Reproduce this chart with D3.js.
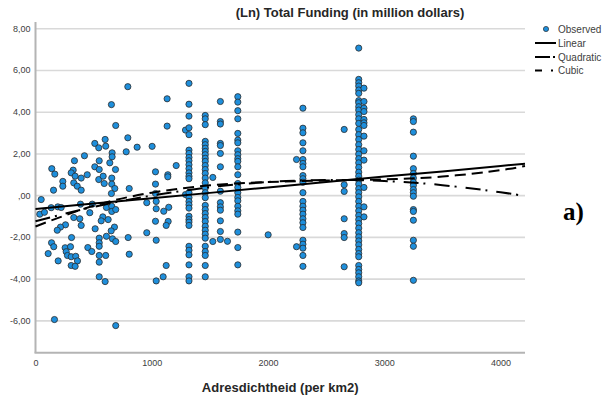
<!DOCTYPE html>
<html>
<head>
<meta charset="utf-8">
<script src="https://cdn.jsdelivr.net/npm/d3@7"></script>
<style>
  body { margin: 0; background: #fff; }
  svg { display: block; font-family: "Liberation Sans", Arial, sans-serif; }
</style>
</head>
<body>
<svg id="chart" width="604" height="399"></svg>
<script>
const chartTitle = "(Ln) Total Funding (in million dollars)";
const xTitle = "Adresdichtheid (per km2)";
const panelLabel = "a)";
const legendLabels = ["Observed", "Linear", "Quadratic", "Cubic"];

const yTicks = [8, 6, 4, 2, 0, -2, -4, -6];
const yTickLabels = ["8,00", "6,00", "4,00", "2,00", ",00", "-2,00", "-4,00", "-6,00"];
const xTicks = [0, 1000, 2000, 3000, 4000];
const xTickLabels = ["0", "1000", "2000", "3000", "4000"];

// Scattered observations: [address density, ln total funding]
const looseObs = [
  [794, 5.20], [653, 4.34], [690, 3.34], [794, 2.75], [510, 2.48], [599, 2.67], [544, 2.27], [604, 2.35],
  [421, 1.89], [335, 1.65], [659, 2.03], [659, 1.84], [780, 2.08], [548, 1.65], [639, 1.55], [510, 1.36],
  [548, 1.23], [688, 1.23], [140, 1.27], [166, 1.01], [324, 1.20], [307, 1.07], [341, 0.91], [393, 0.82],
  [445, 0.98], [544, 0.75], [582, 0.91], [656, 0.82], [591, 0.56], [656, 0.53], [235, 0.66], [235, 0.43],
  [329, 0.59], [359, 0.43], [393, 0.24], [682, 0.32], [653, 0.08], [806, 0.32], [155, 0.24], [49, -0.21],
  [37, -0.91], [77, -0.82], [135, -0.60], [192, -0.56], [221, -0.59], [387, -0.43], [467, -0.84], [488, -0.43],
  [610, -0.59], [656, -0.53], [656, -0.78], [690, -0.69], [329, -1.07], [381, -1.13], [258, -1.42], [215, -1.53],
  [187, -1.68], [393, -1.45], [513, -1.61], [579, -1.04], [565, -1.23], [625, -1.17], [679, -1.53], [651, -1.71],
  [548, -2.06], [548, -2.28], [548, -2.45], [610, -1.97], [662, -2.09], [690, -2.22], [797, -2.03], [310, -2.03],
  [138, -2.28], [157, -2.47], [109, -2.80], [255, -2.52], [264, -2.71], [275, -2.89], [301, -2.47], [307, -2.95],
  [346, -2.93], [361, -3.15], [307, -3.37], [341, -3.41], [195, -3.15], [450, -2.51], [484, -2.70], [548, -2.89],
  [604, -2.89], [548, -3.21], [806, -2.83], [548, -3.91], [599, -4.14], [163, -5.96], [690, -6.25],
  [1132, 4.62], [1132, 3.31], [874, 2.30], [1003, 2.34], [1032, 1.12], [1032, 0.53], [1138, 0.98], [1138, 0.88],
  [1210, 1.42], [1032, 0.08], [957, -0.36], [1038, -0.30], [1038, -0.65], [1103, -0.77], [1146, -0.58],
  [1032, -1.25], [1141, -1.26], [1124, -1.45], [957, -1.80], [1038, -2.16], [1124, -3.37], [1098, -3.91],
  [1038, -4.11], [1290, 0.03], [1290, 3.12], [1651, -2.21], [2001, -1.90]
];

// Densities shared by many observations, with their funding values
const columnX = [1320, 1460, 1525, 1590, 1740, 2245, 2300, 2655, 2780, 2825, 3250];
const columnY = [
  [5.36, 4.36, 3.79, 3.23, 2.90, 2.16, 2.00, 1.81, 1.65, 1.46, 1.27, 1.07, 0.91, 0.79, 0.12, -0.12, -0.30,
   -0.46, -0.62, -1.01, -1.17, -1.29, -1.45, -2.45, -2.64, -2.86, -3.34, -3.91, -4.11],
  [3.82, 3.66, 3.38, 2.58, 2.42, 2.25, 2.10, 1.94, 1.77, 1.62, 1.42, 1.23, 1.04, 0.82, 0.59, 0.35, 0.12,
   -0.12, -0.49, -0.69, -0.88, -1.07, -1.26, -1.49, -1.68, -1.87, -2.06, -2.45, -2.70, -2.89, -3.37, -3.91],
  [0.85, -2.22],
  [4.49, 3.53, 3.41, 2.48, 2.38, 2.00, 1.36, 0.19, -0.36, -0.56, -0.72, -1.23, -1.74, -2.12],
  [4.72, 4.46, 4.05, 3.66, 2.96, 2.64, 2.51, 2.13, 1.94, 1.75, 1.62, 1.36, 0.98, 0.56, 0.37, 0.12, -0.11,
   -0.27, -0.53, -0.75, -0.91, -1.77, -2.51, -3.34],
  [1.71, -2.47],
  [4.17, 3.21, 2.99, 2.51, 2.13, 1.71, 1.52, 1.36, 0.94, 0.79, 0.62, 0.12, -0.30, -0.53, -0.72, -0.91,
   -1.13, -1.32, -1.55, -2.16, -2.35, -2.54, -2.89, -3.41],
  [3.15, 0.50, 0.18, -1.13, -1.84, -2.03, -3.43],
  [7.05, 5.55, 5.39, 5.23, 5.04, 4.88, 4.53, 4.43, 4.24, 4.08, 3.86, 3.66, 3.44, 3.15, 2.90, 2.67, 2.42,
   2.19, 1.97, 1.75, 1.55, 1.33, 1.10, 0.91, 0.72, 0.53, 0.31, 0.12, -0.08, -0.30, -0.53, -0.75, -0.97,
   -1.17, -1.36, -1.58, -1.80, -2.00, -2.19, -2.38, -2.60, -2.80, -2.95, -3.37, -3.56, -3.72, -3.91,
   -4.11, -4.20],
  [5.13, 4.49, 4.17, 4.01, 3.63, 3.47, 3.34, 2.83, 2.13, 1.68, 0.37, -0.56, -1.04],
  [3.66, 3.53, 3.02, 1.87, 1.27, 1.04, 0.82, 0.62, 0.47, 0.27, 0.12, -0.05, -0.69, -0.78, -1.20, -2.16,
   -2.45, -4.08]
];

// Fitted curves, read along the density axis
const fitX = [0, 500, 1000, 1500, 2000, 2500, 3000, 3500, 4000, 4210];
const linearFit = [-0.66, -0.40, -0.15, 0.11, 0.37, 0.63, 0.89, 1.14, 1.40, 1.51];
const quadraticFit = [-1.25, -0.56, -0.02, 0.38, 0.63, 0.73, 0.68, 0.48, 0.14, -0.05];
const cubicFit = [-1.50, -0.51, 0.12, 0.47, 0.63, 0.70, 0.76, 0.89, 1.20, 1.40];

const svg = d3.select("#chart");
const plot = { left: 35.5, right: 525, top: 22, bottom: 352.7 };

const x = d3.scaleLinear().domain([0, 4210]).range([plot.left, plot.right]);
const y = d3.scaleLinear().domain([-7.55, 8.3]).range([plot.bottom, plot.top]);

// horizontal gridlines
svg.append("g")
  .attr("transform", `translate(${plot.left},0)`)
  .call(d3.axisLeft(y).tickValues(yTicks).tickSize(-(plot.right - plot.left)).tickFormat(""))
  .call(g => g.select(".domain").remove())
  .call(g => g.selectAll(".tick line").attr("stroke", "#d9d9d9").attr("stroke-width", 1.6));

// y tick labels
svg.append("g")
  .attr("transform", `translate(${plot.left},0)`)
  .call(d3.axisLeft(y).tickValues(yTicks).tickSize(0).tickPadding(5)
    .tickFormat((d, i) => yTickLabels[i]))
  .call(g => g.select(".domain").remove())
  .call(g => g.selectAll("text").attr("font-size", 9).attr("fill", "#404040")
    .attr("font-family", "'Liberation Sans', Arial, sans-serif"));

// x tick labels
svg.append("g")
  .attr("transform", `translate(0,${plot.bottom})`)
  .call(d3.axisBottom(x).tickValues(xTicks).tickSize(0).tickPadding(7)
    .tickFormat((d, i) => xTickLabels[i]))
  .call(g => g.select(".domain").remove())
  .call(g => g.selectAll("text").attr("font-size", 9).attr("fill", "#404040")
    .attr("font-family", "'Liberation Sans', Arial, sans-serif"));

// axis frame lines
svg.append("line")
  .attr("x1", plot.left).attr("x2", plot.left).attr("y1", plot.top).attr("y2", plot.bottom)
  .attr("stroke", "#b4b4b4").attr("stroke-width", 2);
svg.append("line")
  .attr("x1", plot.left - 1).attr("x2", plot.right).attr("y1", plot.bottom).attr("y2", plot.bottom)
  .attr("stroke", "#b4b4b4").attr("stroke-width", 2);

// observations
const points = looseObs.map(d => ({ x: d[0], y: d[1] }));
columnX.forEach((cx, i) => columnY[i].forEach(v => points.push({ x: cx, y: v })));

const dotFill = "#1e8fdc";
const dotStroke = "#2b2b2b";
svg.append("g")
  .selectAll("circle")
  .data(points)
  .join("circle")
  .attr("cx", d => x(d.x))
  .attr("cy", d => y(d.y))
  .attr("r", 3.1)
  .attr("fill", dotFill)
  .attr("stroke", dotStroke)
  .attr("stroke-width", 0.8);

// fit lines
const lineGen = d3.line().x(d => x(d[0])).y(d => y(d[1]));
const curveGen = d3.line().x(d => x(d[0])).y(d => y(d[1])).curve(d3.curveNatural);

const fits = [
  { values: linearFit, gen: lineGen, dash: null },
  { values: quadraticFit, gen: curveGen, dash: "15,5,2,9" },
  { values: cubicFit, gen: curveGen, dash: "11,6" }
];
fits.forEach(f => {
  svg.append("path")
    .datum(fitX.map((v, i) => [v, f.values[i]]))
    .attr("d", f.gen)
    .attr("fill", "none")
    .attr("stroke", "#000")
    .attr("stroke-width", 2)
    .attr("stroke-dasharray", f.dash);
});

// title and axis title
svg.append("text")
  .attr("x", 350).attr("y", 16.5)
  .attr("text-anchor", "middle")
  .attr("font-size", 13).attr("font-weight", "bold").attr("fill", "#262626")
  .text(chartTitle);

svg.append("text")
  .attr("x", (plot.left + plot.right) / 2).attr("y", 392)
  .attr("text-anchor", "middle")
  .attr("font-size", 13).attr("font-weight", "bold").attr("fill", "#262626")
  .text(xTitle);

// legend
const legend = svg.append("g").attr("font-size", 10).attr("fill", "#404040");
const legendRows = [29, 43, 57, 70.5];
legend.append("circle")
  .attr("cx", 546).attr("cy", legendRows[0]).attr("r", 2.6)
  .attr("fill", dotFill).attr("stroke", dotStroke).attr("stroke-width", 0.7);
legend.append("line")
  .attr("x1", 535).attr("x2", 556).attr("y1", legendRows[1]).attr("y2", legendRows[1])
  .attr("stroke", "#000").attr("stroke-width", 2);
legend.append("line")
  .attr("x1", 535).attr("x2", 557).attr("y1", legendRows[2]).attr("y2", legendRows[2])
  .attr("stroke", "#000").attr("stroke-width", 2).attr("stroke-dasharray", "15,3,2,20");
legend.append("line")
  .attr("x1", 535).attr("x2", 554).attr("y1", legendRows[3]).attr("y2", legendRows[3])
  .attr("stroke", "#000").attr("stroke-width", 2).attr("stroke-dasharray", "7,9,2,20");
legendLabels.forEach((t, i) => {
  legend.append("text")
    .attr("x", 558).attr("y", legendRows[i]).attr("dy", "0.35em")
    .text(t);
});

// panel label
svg.append("text")
  .attr("x", 563).attr("y", 220)
  .attr("font-family", "'Liberation Serif', 'Times New Roman', serif")
  .attr("font-size", 25).attr("font-weight", "bold").attr("fill", "#000")
  .text(panelLabel);
</script>
</body>
</html>
